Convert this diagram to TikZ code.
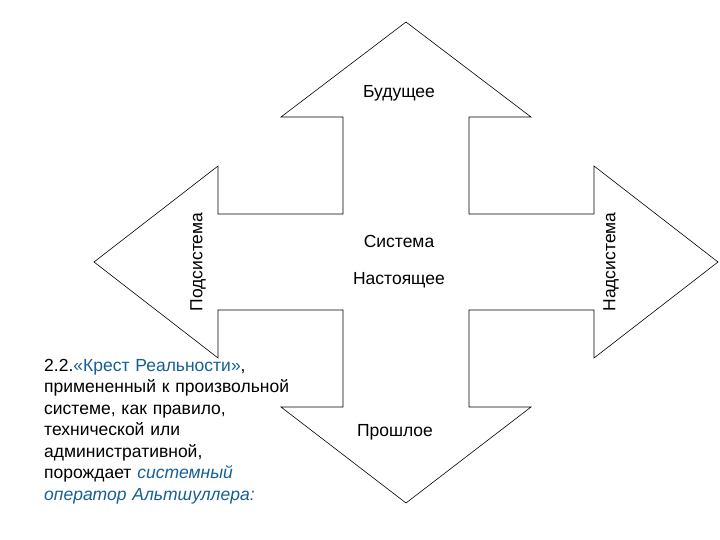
\documentclass[tikz,border=0pt]{standalone}
\usepackage{fontspec}
\setmainfont{Liberation Sans}
\definecolor{tblue}{RGB}{20,95,150}
\begin{document}
\begin{tikzpicture}[x=1pt,y=-1pt,
  lbl/.style={font=\fontsize{17.5}{20}\selectfont, inner sep=0pt},
  para/.style={font=\fontsize{17.5}{21.5}\selectfont, align=left, anchor=north west, inner sep=1pt, text width=252pt}]
\useasboundingbox (0,0) rectangle (720,540);
\draw[line width=0.6pt] (406,22) -- (531,117) -- (469,117) -- (469,214) -- (594,214) -- (594,166)
  -- (718,262) -- (594,358) -- (594,310) -- (469,310) -- (469,407) -- (531,407) -- (406,503)
  -- (281,407) -- (343,407) -- (343,310) -- (218,310) -- (218,358) -- (94,262) -- (218,166)
  -- (218,214) -- (343,214) -- (343,117) -- (281,117) -- cycle;
\node[lbl] (f) at (399,93) {Будущее};
\node[lbl] (s) at (399,241) {Система};
\node[lbl] (n) at (399,280) {Настоящее};
\node[lbl] (p) at (395,432) {Прошлое};
\node[lbl, rotate=90] (ps) at (198,262) {Подсистема};
\node[lbl, rotate=90] (ns) at (611,262) {Надсистема};
\node[para] (t) at (43,358) {2.2.\textcolor{tblue}{«Крест Реальности»},\\примененный к произвольной\\системе, как правило,\\технической или\\административной,\\порождает \textcolor{tblue}{\itshape системный}\\\textcolor{tblue}{\itshape оператор Альтшуллера:}};
\end{tikzpicture}
\end{document}
